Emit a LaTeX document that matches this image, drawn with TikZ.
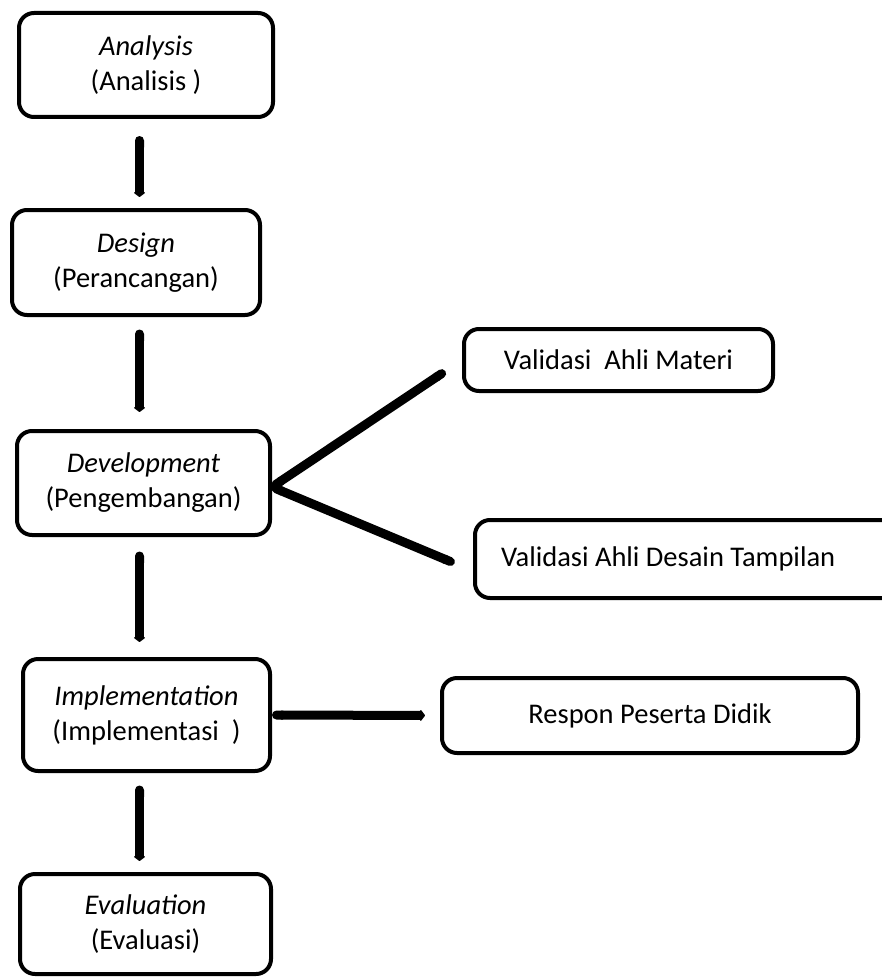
\documentclass[tikz,border=0pt]{standalone}
\usepackage{fontspec}
\setmainfont{Carlito}
\usepackage{tikz}
\usetikzlibrary{arrows.meta, positioning}

\begin{document}
\begin{tikzpicture}[x=1pt, y=-1pt,
  font=\fontsize{28.5pt}{35pt}\selectfont,
  phase/.style={draw, line width=4pt, rounded corners=15pt, inner sep=0pt, align=center},
  valbox/.style={draw, line width=4pt, rounded corners=15pt, inner sep=0pt},
  flow/.style={line width=9pt, {Round Cap[]}-{Triangle[length=5pt,width=13pt,round,line width=2pt]}},
  branch/.style={line width=9pt, {Round Cap[]}-{Round Cap[]}}]
  \useasboundingbox (0,0) rectangle (881,979);
  \coordinate (spine) at (139.5,0);
  % ADDIE phases
  \foreach \nm/\en/\id/\cx/\cy/\w/\h in {
    analysis/Analysis/{(Analisis )}/146/65/254/104,
    design/Design/{(Perancangan)}/136/262.5/248/105,
    development/Development/{(Pengembangan)}/143.5/483/253/104,
    implementation/Implementation/{(Implementasi\ \ )}/146.5/715/247/112,
    evaluation/Evaluation/{(Evaluasi)}/145.5/924/251/100}
  {
    \node[phase, minimum width=\w pt, minimum height=\h pt] (\nm) at (\cx,\cy) {\textit{\en}\\\id};
  }
  % side boxes
  \node[valbox, minimum width=309pt, minimum height=62pt] (materi) at (618.5,360) {Validasi\ \ Ahli Materi};
  \node[valbox, minimum height=78pt, text width=371pt, inner xsep=26pt, align=flush left] (tampilan) at (686.5,559) {Validasi Ahli Desain Tampilan};
  \node[valbox, minimum width=416pt, minimum height=75pt] (respon) at (650,715.5) {Respon Peserta Didik};
  % main flow
  \foreach \a/\b/\s/\e in {analysis/design/17/11, design/development/12.5/17,
    development/implementation/14.5/15, implementation/evaluation/12.5/11}
  {
    \draw[flow, shorten <=\s pt, shorten >=\e pt] (\a.south -| spine) -- (\b.north -| spine);
  }
  % branches
  \draw[branch, shorten >=20pt] ([yshift=-4pt]development.east) -- (materi.west);
  \draw[branch, shorten >=20pt] ([yshift=-4pt]development.east) -- ([yshift=-12pt]tampilan.west);
  \draw[flow, shorten >=15pt] (implementation.east) -- (respon.west);
\end{tikzpicture}
\end{document}
